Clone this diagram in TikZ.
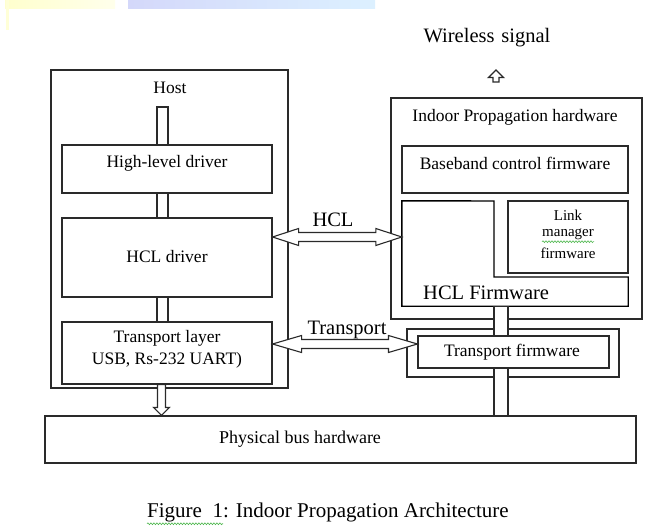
\documentclass[tikz,border=0pt]{standalone}
\usepackage{fontspec}
\setmainfont{Liberation Serif}
\usetikzlibrary{calc,decorations.pathmorphing}
\definecolor{ln}{HTML}{2A2A2A}
\definecolor{squig}{HTML}{4FB84F}
\definecolor{yelA}{RGB}{255,255,205}
\definecolor{yelB}{RGB}{255,255,235}
\definecolor{yelC}{RGB}{255,255,215}
\definecolor{bluA}{RGB}{212,216,250}
\definecolor{bluB}{RGB}{220,240,255}
\tikzset{
  blk/.style={draw=ln,line width=1.1pt,inner sep=0pt,fill=white},
  pipe/.style={draw=ln,line width=1.1pt,fill=white},
  harrow/.style={draw=ln,line width=1.1pt,fill=white,line join=miter},
  tsm/.style={font=\fontsize{17.5}{22}\selectfont,inner sep=0pt,align=center},
  tlk/.style={font=\fontsize{15}{18}\selectfont,inner sep=0pt},
  tph/.style={font=\fontsize{18}{22}\selectfont,inner sep=0pt},
  tbig/.style={font=\fontsize{20.5}{24}\selectfont,inner sep=0pt},
  tcap/.style={font=\fontsize{21}{24}\selectfont,inner sep=0pt},
  wavy/.style={draw=squig,line width=0.6pt,decorate,decoration={snake,amplitude=0.9pt,segment length=3pt}}
}
\begin{document}
\begin{tikzpicture}[x=1pt,y=-1pt]
\useasboundingbox[fill=white] (0,0) rectangle (647,529);
% slide background remnants
\shade[left color=yelA,right color=yelB] (5,0) rectangle (115,9);
\shade[left color=bluA,right color=bluB] (128,0) rectangle (375,9);
\fill[yelC] (6,0) rectangle (9,30);

% ---------- Host side ----------
\node[blk,minimum width=237,minimum height=318] (host) at (169.5,229) {};
\node[tsm] (hosttxt) at (170,88) {Host};
\node[blk,minimum width=210,minimum height=48] (hld) at (167,169) {};
\node[tsm] (hldtxt) at (167,163) {High-level driver};
\node[blk,minimum width=210,minimum height=79] (hcld) at (167,257.5) {};
\node[tsm] (hcldtxt) at (167,257) {HCL driver};
\node[blk,minimum width=210,minimum height=62] (tl) at (167,353) {};
\node[tsm] (tltxt) at (167,349) {Transport layer\\USB, Rs-232 UART)};

% ---------- Physical bus ----------
\node[blk,minimum width=591,minimum height=47] (phys) at (340.5,439.5) {};
\node[tph] (phystxt) at (300,439) {Physical bus hardware};

% ---------- Indoor propagation side ----------
\node[tbig] (wtxt) at (487,38) {Wireless\,\,signal};
\node[blk,minimum width=251,minimum height=221] (indoor) at (516.5,208.5) {};
\node[tsm] (indtxt) at (515,117) {Indoor Propagation hardware};
\node[blk,minimum width=226,minimum height=47] (bb) at (515,169.5) {};
\node[tsm] (bbtxt) at (515,163) {Baseband control firmware};
\node[minimum width=226,minimum height=105,inner sep=0pt] (hclfw) at (515,253.5) {};
\draw[draw=black,line width=1.4pt,line join=miter] (hclfw.north west) -- (494,201) -- (494,277) -- (hclfw.east |- {(0,277)}) -- (hclfw.south east) -- (hclfw.south west) -- cycle;
\node[tbig,anchor=west] (hclfwtxt) at (423,293) {HCL Firmware};
\node[blk,minimum width=120,minimum height=72] (lm) at (568,237) {};
\node[tlk] (lm1) at (568,215) {Link};
\node[tlk] (lm2) at (568,234) {manager};
\node[tlk] (lm3) at (568,253) {firmware};
\draw[wavy] ([yshift=-2pt]lm2.south west) -- ([yshift=-2pt]lm2.south east);
\node[blk,minimum width=212,minimum height=48] (tfo) at (513,353) {};
\node[blk,minimum width=191,minimum height=32] (tfi) at (513.5,352) {};
\node[tsm] (tftxt) at (512,352) {Transport firmware};

% ---------- pipes ----------
\coordinate (pL) at (157,0);
\coordinate (pR) at (168,0);
\coordinate (qL) at (494,0);
\coordinate (qR) at (508,0);
\coordinate (ptop) at (0,107);
\draw[pipe] (hld.north -| pL) rectangle (ptop -| pR);
\draw[pipe] (hld.south -| pL) rectangle (hcld.north -| pR);
\draw[pipe] (hcld.south -| pL) rectangle (tl.north -| pR);
\draw[pipe] (hclfw.south -| qL) rectangle (tfi.north -| qR);
\draw[pipe] (tfi.south -| qL) rectangle (phys.north -| qR);

% ---------- hollow arrows ----------
% down arrow host -> physical bus
\coordinate (dx) at (161.5,0);
\coordinate (dS) at (tl.south -| dx);
\coordinate (dT) at (phys.north -| dx);
\draw[harrow] ($(dS)+(-4,0)$) -- ($(dT)+(-4,-8)$) -- ($(dT)+(-8,-8)$) -- (dT) -- ($(dT)+(8,-8)$) -- ($(dT)+(4,-8)$) -- ($(dS)+(4,0)$) -- cycle;

% wireless up arrow
\coordinate (wtip) at (496,70);
\draw[harrow,line width=1.3pt] (wtip) -- ++(7.5,7.5) -- ++(-4.5,0) -- ++(0,4.5) -- ++(-6,0) -- ++(0,-4.5) -- ++(-4.5,0) -- cycle;

% HCL double arrow
\coordinate (hy) at (0,237);
\coordinate (hA) at (hcld.east |- hy);
\coordinate (hB) at (hclfw.west |- hy);
\draw[harrow] (hA) -- ($(hA)+(26,-8.5)$) -- ($(hA)+(26,-4.5)$) -- ($(hB)+(-26,-4.5)$) -- ($(hB)+(-26,-8.5)$) -- (hB) -- ($(hB)+(-26,8.5)$) -- ($(hB)+(-26,4.5)$) -- ($(hA)+(26,4.5)$) -- ($(hA)+(26,8.5)$) -- cycle;
\node[tbig] (hcllab) at (333,220) {HCL};

% Transport double arrow
\coordinate (ty) at (0,344);
\coordinate (tA) at (tl.east |- ty);
\coordinate (tB) at (tfi.west |- ty);
\draw[harrow] (tA) -- ($(tA)+(29,-8.5)$) -- ($(tA)+(29,-4.5)$) -- ($(tB)+(-29,-4.5)$) -- ($(tB)+(-29,-8.5)$) -- (tB) -- ($(tB)+(-29,8.5)$) -- ($(tB)+(-29,4.5)$) -- ($(tA)+(29,4.5)$) -- ($(tA)+(29,8.5)$) -- cycle;
\node[tbig] (trlab) at (347,330) {Transport};

% ---------- caption ----------
\node[tcap,anchor=west] (cap) at (147,512) {Figure\,\,\,1: Indoor Propagation Architecture};
\draw[wavy] ([yshift=-2pt]cap.south west) -- ++(76,0);
\end{tikzpicture}
\end{document}
